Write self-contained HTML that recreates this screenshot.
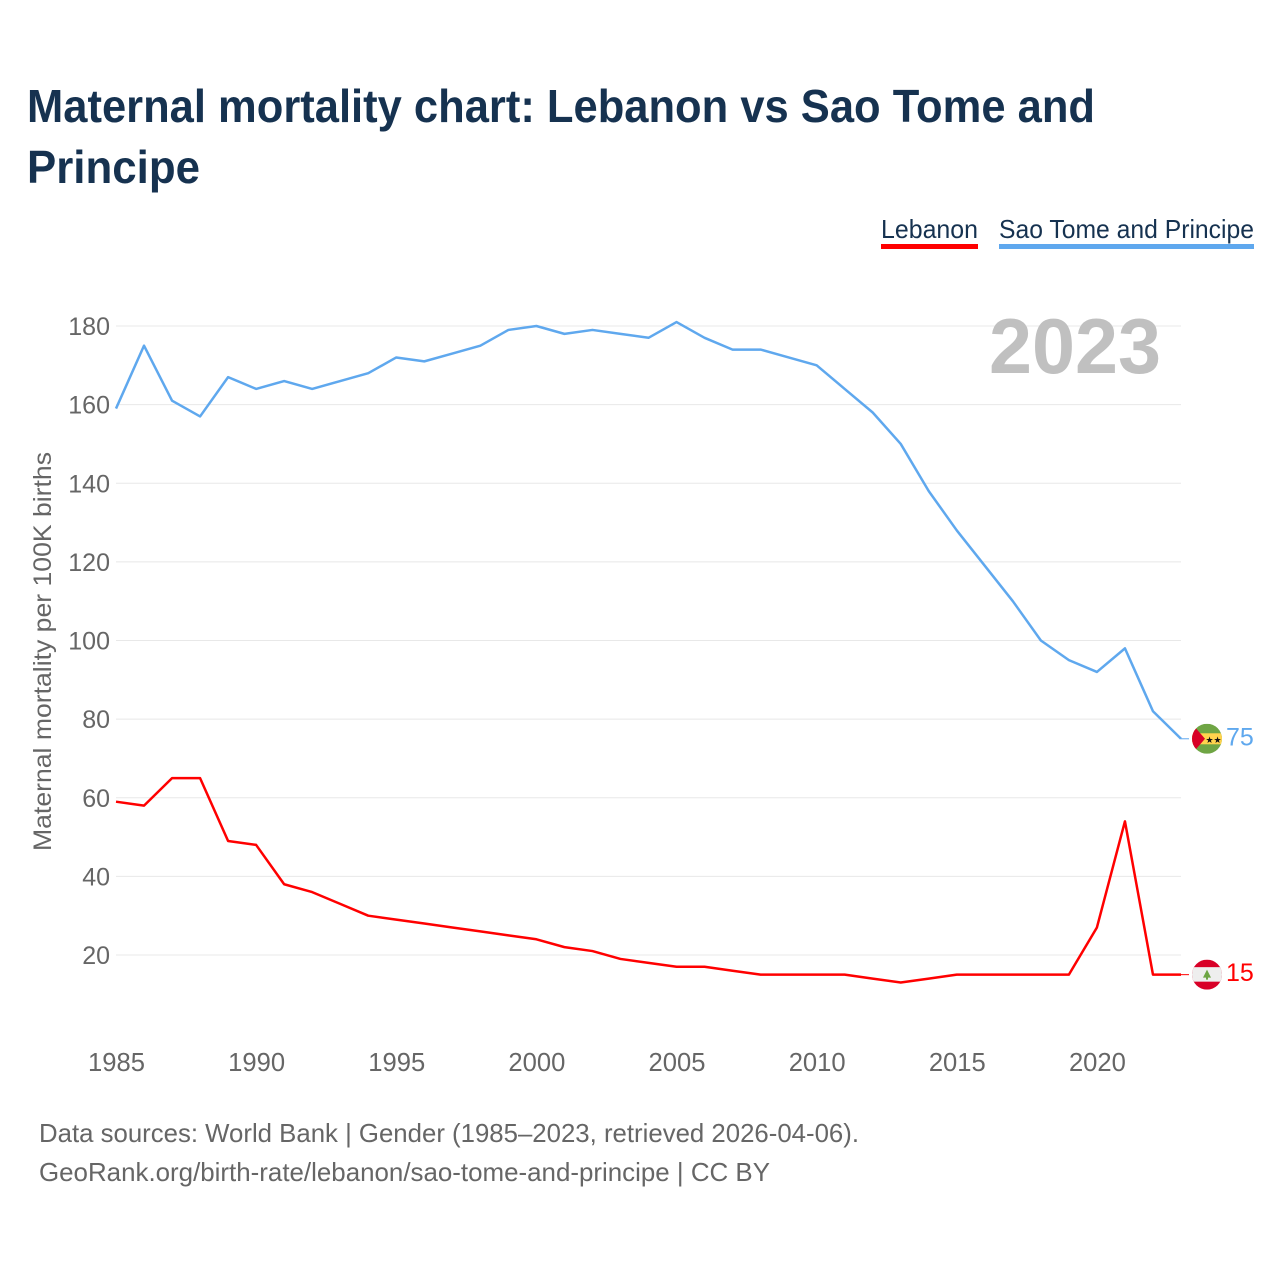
<!DOCTYPE html>
<html lang="en">
<head>
<meta charset="utf-8">
<title>Maternal mortality chart: Lebanon vs Sao Tome and Principe</title>
<style>
html,body{margin:0;padding:0;background:#fff;}
svg{display:block;font-family:"Liberation Sans",sans-serif;}
</style>
</head>
<body>
<svg id="chart" xmlns="http://www.w3.org/2000/svg" width="1280" height="1280" viewBox="0 0 1280 1280">
  <defs>
    <clipPath id="flag-clip"><circle cx="0" cy="0" r="15"></circle></clipPath>
  </defs>
  <rect x="0" y="0" width="1280" height="1280" fill="#ffffff"></rect>

  <g fill="#163250" font-size="46" font-weight="700">
    <text x="27" y="122" textLength="1068" lengthAdjust="spacingAndGlyphs">Maternal mortality chart: Lebanon vs Sao Tome and</text>
    <text x="27" y="183" textLength="173" lengthAdjust="spacingAndGlyphs">Principe</text>
  </g>

  <g font-size="26" fill="#163250">
    <g>
      <text x="881" y="238" textLength="97" lengthAdjust="spacingAndGlyphs">Lebanon</text>
      <rect x="881" y="244" width="97" height="5" fill="#ff0000"></rect>
    </g>
    <g>
      <text x="999" y="238" textLength="255" lengthAdjust="spacingAndGlyphs">Sao Tome and Principe</text>
      <rect x="999" y="244" width="255" height="5" fill="#5fa8ee"></rect>
    </g>
  </g>

  <g id="grid"></g>
  <g id="y-ticks"></g>
  <g id="x-ticks"></g>

  <text transform="translate(51,851) rotate(-90)" font-size="25" fill="#666666" textLength="399" lengthAdjust="spacingAndGlyphs">Maternal mortality per 100K births</text>

  <text x="989" y="373" font-size="78" font-weight="700" fill="#c0c0c0" textLength="172" lengthAdjust="spacingAndGlyphs">2023</text>

  <g id="series"></g>

  <g id="flag-stp">
    <g clip-path="url(#flag-clip)">
      <rect x="-15" y="-15" width="30" height="30" fill="#6fa544"></rect>
      <rect x="-15" y="-5.5" width="30" height="11" fill="#ffd34d"></rect>
      <polygon points="-15,-15 -2,0 -15,15" fill="#d80027"></polygon>
      <text x="6.5" y="4" font-size="9" text-anchor="middle" fill="#111111" font-family="'DejaVu Sans',sans-serif">★★</text>
    </g>
  </g>
  <g id="flag-lbn">
    <g clip-path="url(#flag-clip)">
      <rect x="-15" y="-15" width="30" height="30" fill="#d80027"></rect>
      <rect x="-15" y="-7.5" width="30" height="14.5" fill="#eeeeee"></rect>
      <polygon points="0,-5 4,3 1,3 1,5 -1,5 -1,3 -4,3" fill="#6da544"></polygon>
    </g>
  </g>

  <g id="end-labels" font-size="25"></g>

  <g font-size="26" fill="#666666">
    <text x="39" y="1142" textLength="820" lengthAdjust="spacingAndGlyphs">Data sources: World Bank | Gender (1985–2023, retrieved 2026-04-06).</text>
    <text x="39" y="1181" textLength="731" lengthAdjust="spacingAndGlyphs">GeoRank.org/birth-rate/lebanon/sao-tome-and-principe | CC BY</text>
  </g>
</svg>

<script>
const startYear = 1985;
const lebanonValues = [59,58,65,65,49,48,38,36,33,30,29,28,27,26,25,24,22,21,19,18,17,17,16,15,15,15,15,14,13,14,15,15,15,15,15,27,54,15,15];
const saoTomeValues = [159,175,161,157,167,164,166,164,166,168,172,171,173,175,179,180,178,179,178,177,181,177,174,174,172,170,164,158,150,138,128,119,110,100,95,92,98,82,75];
const yTickValues = [20,40,60,80,100,120,140,160,180];
const xTickYears = [1985,1990,1995,2000,2005,2010,2015,2020];

const NS = 'http://www.w3.org/2000/svg';
function xScale(year){ return 116 + (year - 1985) * (1181 - 116) / 38; }
function yScale(v){ return 955 - (v - 20) * (955 - 326) / 160; }

const gridGroup = document.getElementById('grid');
const yTickGroup = document.getElementById('y-ticks');
const xTickGroup = document.getElementById('x-ticks');
const seriesGroup = document.getElementById('series');
const endLabelGroup = document.getElementById('end-labels');

yTickValues.forEach(function(v){
  const line = document.createElementNS(NS, 'line');
  
  
  line.setAttribute('x1', xScale(1985));
  line.setAttribute('x2', xScale(2023));
  line.setAttribute('y1', yScale(v));
  line.setAttribute('y2', yScale(v));
  line.setAttribute('stroke', '#e8e8e8');
  line.setAttribute('stroke-width', '1');
  gridGroup.appendChild(line);

  const label = document.createElementNS(NS, 'text');
  
  
  label.setAttribute('x', 110);
  label.setAttribute('y', yScale(v) + 9);
  label.setAttribute('text-anchor', 'end');
  label.setAttribute('font-size', '25');
  label.setAttribute('fill', '#666666');
  label.textContent = String(v);
  yTickGroup.appendChild(label);
});

xTickYears.forEach(function(year){
  const label = document.createElementNS(NS, 'text');
  
  
  label.setAttribute('x', year === 1985 ? 88 : xScale(year) + 0.5);
  label.setAttribute('y', 1071);
  label.setAttribute('text-anchor', year === 1985 ? 'start' : 'middle');
  label.setAttribute('font-size', '25.6');
  label.setAttribute('fill', '#666666');
  label.textContent = String(year);
  xTickGroup.appendChild(label);
});

function drawSeries(values, color, key, flagId){
  const points = values.map(function(v, i){
    return xScale(startYear + i).toFixed(2) + ',' + yScale(v).toFixed(2);
  }).join(' ');
  const line = document.createElementNS(NS, 'polyline');
  
  
  line.setAttribute('points', points);
  line.setAttribute('fill', 'none');
  line.setAttribute('stroke', color);
  line.setAttribute('stroke-width', '2.5');
  line.setAttribute('stroke-linejoin', 'round');
  seriesGroup.appendChild(line);

  const last = values[values.length - 1];
  const lastY = yScale(last);

  const connector = document.createElementNS(NS, 'line');
  
  
  connector.setAttribute('x1', xScale(2023));
  connector.setAttribute('x2', xScale(2023) + 8);
  connector.setAttribute('y1', lastY);
  connector.setAttribute('y2', lastY);
  connector.setAttribute('stroke', color);
  connector.setAttribute('stroke-width', '1');
  seriesGroup.appendChild(connector);

  document.getElementById(flagId).setAttribute('transform', 'translate(1207,' + lastY + ')');

  const label = document.createElementNS(NS, 'text');
  
  
  label.setAttribute('x', 1226);
  label.setAttribute('y', lastY + 6.5);
  label.setAttribute('fill', color);
  label.textContent = String(last);
  endLabelGroup.appendChild(label);
}

drawSeries(saoTomeValues, '#5fa8ee', 'sao-tome-and-principe', 'flag-stp');
drawSeries(lebanonValues, '#ff0000', 'lebanon', 'flag-lbn');
</script>
</body>
</html>
